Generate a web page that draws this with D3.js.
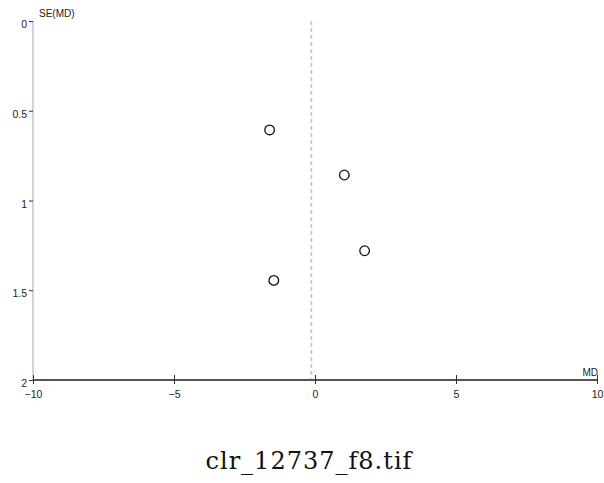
<!DOCTYPE html>
<html>
<head>
<meta charset="utf-8">
<script src="https://cdn.jsdelivr.net/npm/d3@7"></script>
<style>
  html, body { margin: 0; padding: 0; background: #fff; }
  svg { display: block; }
</style>
</head>
<body>
<svg id="chart" width="604" height="483"></svg>
<script>
// Funnel plot: mean difference (MD) against its standard error
const studyMD = [-1.61, 1.04, 1.76, -1.46];
const studySE = [0.607, 0.858, 1.28, 1.445];
const pooledMD = -0.13;
const xTicks = [-10, -5, 0, 5, 10];
const yTicks = [0, 0.5, 1, 1.5, 2];
const xTitle = "MD";
const yTitle = "SE(MD)";
const caption = "clr_12737_f8.tif";

const svg = d3.select("#chart");
const x = d3.scaleLinear().domain([-10, 10]).range([33, 597]);
const y = d3.scaleLinear().domain([0, 2]).range([21, 380]);
const font = "'Liberation Sans', Arial, sans-serif";

// y axis (light line, dark ticks to the left)
const yAxis = svg.append("g").attr("transform", `translate(${x(-10)},0)`)
  .call(d3.axisLeft(y).tickValues(yTicks).tickSize(4).tickPadding(2).tickFormat(d3.format("")));
yAxis.select(".domain").attr("stroke", "#c4c4c4").attr("stroke-width", 1.5).attr("d", `M0,${y(0)}V${y(2)}`);
yAxis.selectAll(".tick line").attr("stroke", "#333");
yAxis.selectAll(".tick text").attr("font-family", font).attr("font-size", 10.5)
  .attr("fill", "#222").attr("dy", null).attr("y", 6.5);

// reference line at the pooled estimate
svg.append("line")
  .attr("x1", x(pooledMD)).attr("x2", x(pooledMD))
  .attr("y1", y(0)).attr("y2", y(2))
  .attr("stroke", "#c4c4f0").attr("stroke-width", 1.8)
  .attr("stroke-dasharray", "4,3");

// x axis (dark line, ticks crossing it)
const xAxis = svg.append("g").attr("transform", `translate(0,${y(2)})`)
  .call(d3.axisBottom(x).tickValues(xTicks).tickSize(4).tickFormat(d3.format("")));
xAxis.select(".domain").attr("stroke", "#555").attr("stroke-width", 2).attr("d", `M${x(-10)},0H${x(10)}`);
xAxis.selectAll(".tick line").attr("stroke", "#333").attr("y1", -5).attr("y2", 4);
xAxis.selectAll(".tick text").attr("font-family", font).attr("font-size", 10.5)
  .attr("fill", "#222").attr("dy", null).attr("y", 17.5);

// axis titles
svg.append("text").attr("x", x(-10) + 6).attr("y", y(0) - 4)
  .attr("font-family", font).attr("font-size", 10).attr("fill", "#222").text(yTitle);
svg.append("text").attr("x", x(10) + 1).attr("y", y(2) - 4).attr("text-anchor", "end")
  .attr("font-family", font).attr("font-size", 10).attr("fill", "#222").text(xTitle);

// study points
svg.append("g").selectAll("circle")
  .data(studyMD.map((m, i) => ({ md: m, se: studySE[i] })))
  .join("circle")
  .attr("cx", d => x(d.md)).attr("cy", d => y(d.se))
  .attr("r", 4.8)
  .attr("fill", "#fff").attr("stroke", "#111").attr("stroke-width", 1.3);

// caption
svg.append("text").attr("x", 309).attr("y", 469).attr("text-anchor", "middle")
  .attr("font-family", "'DejaVu Serif', 'Liberation Serif', serif").attr("font-size", 24)
  .attr("letter-spacing", 1)
  .attr("fill", "#111").text(caption);
</script>
</body>
</html>
